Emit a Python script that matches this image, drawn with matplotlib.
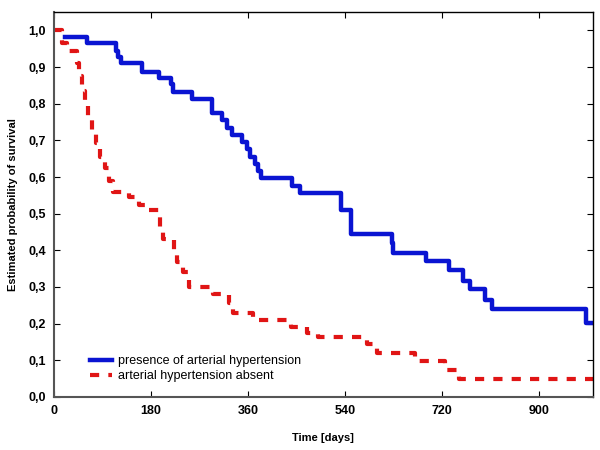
import matplotlib
matplotlib.use("Agg")
import matplotlib.pyplot as plt

plt.rcParams['font.family'] = ['Liberation Sans', 'DejaVu Sans']

# Kaplan-Meier steps (day, survival)
htn_days = [21, 61, 115, 118, 124, 163, 195, 217, 221, 257, 293, 311, 321, 330,
            348, 358, 363, 373, 378, 385, 441, 456, 532, 552, 627, 630, 690,
            733, 759, 773, 800, 812, 987, 1000]
htn_surv = [0.981, 0.965, 0.945, 0.927, 0.91, 0.888, 0.869, 0.853, 0.831, 0.812,
            0.774, 0.755, 0.733, 0.714, 0.695, 0.676, 0.654, 0.635, 0.616, 0.597,
            0.575, 0.556, 0.51, 0.444, 0.42, 0.392, 0.37, 0.346, 0.316, 0.294,
            0.264, 0.24, 0.202, 0.202]

nohtn_days = [0, 15, 24, 42, 47, 52, 57, 63, 70, 78, 86, 94, 103, 110, 140, 158,
              168, 196, 203, 222, 228, 240, 250, 295, 325, 332, 370, 440, 470,
              490, 580, 600, 670, 725, 752, 1000]
nohtn_surv = [1.0, 0.967, 0.945, 0.91, 0.877, 0.836, 0.80, 0.763, 0.727, 0.692,
              0.654, 0.624, 0.59, 0.558, 0.545, 0.525, 0.51, 0.455, 0.43, 0.40,
              0.368, 0.34, 0.30, 0.28, 0.255, 0.228, 0.21, 0.19, 0.175, 0.164,
              0.145, 0.12, 0.098, 0.073, 0.05, 0.05]

labels = ['presence of arterial hypertension', 'arterial hypertension absent']
xticks = [0, 180, 360, 540, 720, 900]
yticks = [0.0, 0.1, 0.2, 0.3, 0.4, 0.5, 0.6, 0.7, 0.8, 0.9, 1.0]

fig = plt.figure(figsize=(6, 4.5), dpi=100)
ax = fig.add_axes([0.09, 0.118, 0.898, 0.855])

ax.plot(htn_days, htn_surv, drawstyle='steps-post', color='#0a14d2', lw=3.2,
        label=labels[0])
ax.plot(nohtn_days, nohtn_surv, drawstyle='steps-post', color='#e01515', lw=3,
        dashes=(2.2, 2.2), label=labels[1])

ax.set_xlim(0, 1000)
ax.set_ylim(0, 1.05)
ax.set_xticks(xticks)
ax.set_xticklabels([str(t) for t in xticks], fontweight='bold', fontsize=9)
ax.set_yticks(yticks)
ax.set_yticklabels([('%.1f' % t).replace('.', ',') for t in yticks],
                   fontweight='bold', fontsize=9)
ax.tick_params(direction='in', top=True, right=True, length=4, width=0.8, pad=6)

for s in ['left', 'bottom']:
    ax.spines[s].set_color('#555555')
    ax.spines[s].set_linewidth(1.5)
for s in ['top', 'right']:
    ax.spines[s].set_linewidth(1.0)

ax.set_xlabel('Time [days]', fontweight='bold', fontsize=8, labelpad=11)
ax.set_ylabel('Estimated probability of survival', fontweight='bold', fontsize=8,
              labelpad=7)

ax.legend(loc='lower left', bbox_to_anchor=(0.05, 0.015), frameon=False,
          fontsize=9, handlelength=1.8, handletextpad=0.5, labelspacing=0.25,
          borderpad=0.2)

fig.savefig('out.png', dpi=100)
